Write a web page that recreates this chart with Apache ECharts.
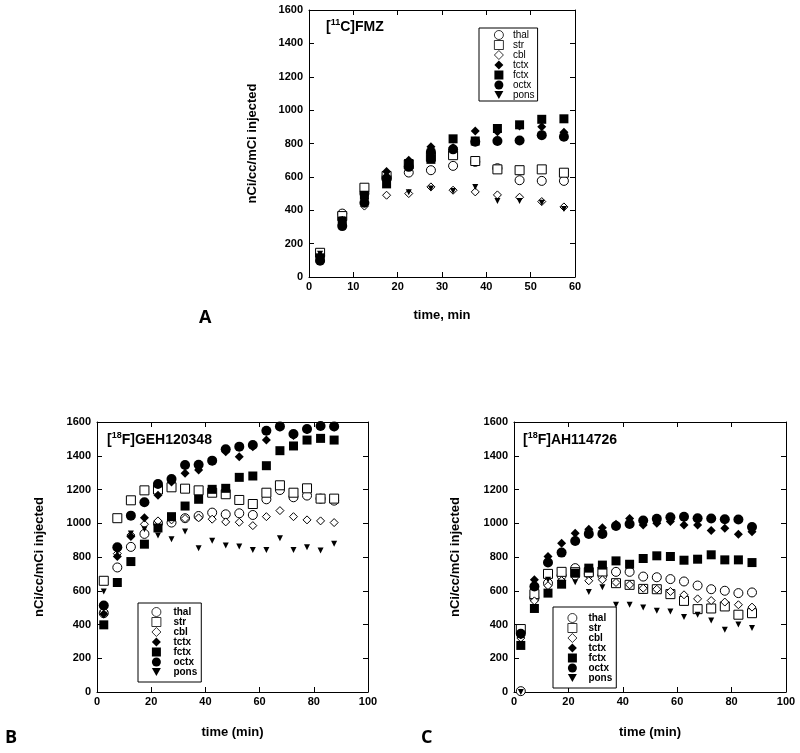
<!DOCTYPE html>
<html><head><meta charset="utf-8">
<script src="https://cdn.jsdelivr.net/npm/echarts@6/dist/echarts.min.js"></script>
<style>html,body{margin:0;padding:0;background:#fff}#c{width:800px;height:753px}</style>
</head><body><div id="c"></div>
<script>
// ---------- data ----------
const regions = ['thal', 'str', 'cbl', 'tctx', 'fctx', 'octx', 'pons'];

const timeA = [2.5, 7.5, 12.5, 17.5, 22.5, 27.5, 32.5, 37.5, 42.5, 47.5, 52.5, 57.5];
const thalA = [130, 380, 500, 600, 626, 640, 666, 690, 652, 580, 576, 576];
const strA  = [145, 365, 535, 605, 675, 720, 730, 695, 645, 640, 645, 625];
const cblA  = [125, 340, 425, 490, 500, 540, 520, 510, 492, 478, 452, 420];
const tctxA = [125, 330, 470, 632, 700, 780, 775, 875, 870, 905, 900, 868];
const fctxA = [115, 335, 490, 558, 680, 705, 828, 815, 890, 912, 945, 948];
const octxA = [98, 305, 445, 590, 660, 750, 765, 810, 815, 818, 850, 840];
const ponsA = [140, 345, 480, 560, 508, 530, 515, 540, 455, 455, 445, 408];

const timeBC = [2.5, 7.5, 12.5, 17.5, 22.5, 27.5, 32.5, 37.5, 42.5, 47.5, 52.5, 57.5, 62.5, 67.5, 72.5, 77.5, 82.5, 87.5];
const thalB = [467, 738, 860, 937, 1000, 1004, 1030, 1043, 1063, 1053, 1059, 1049, 1142, 1197, 1154, 1164, 1146, 1134];
const strB  = [659, 1030, 1136, 1195, 1200, 1213, 1205, 1195, 1181, 1172, 1138, 1114, 1181, 1225, 1181, 1207, 1146, 1146];
const cblB  = [480, 820, 930, 994, 1014, 1020, 1028, 1032, 1024, 1008, 1006, 986, 1039, 1075, 1039, 1020, 1014, 1004];
const tctxB = [462, 803, 921, 1032, 1166, 1245, 1296, 1316, 1369, 1424, 1394, 1454, 1493, 1570, 1520, 1555, 1575, 1570];
const fctxB = [398, 649, 773, 876, 972, 1039, 1102, 1142, 1201, 1207, 1272, 1280, 1341, 1430, 1458, 1493, 1503, 1493];
const octxB = [513, 858, 1045, 1124, 1233, 1262, 1345, 1347, 1371, 1438, 1454, 1464, 1548, 1574, 1529, 1558, 1576, 1574];
const ponsB = [596, 830, 940, 964, 927, 905, 951, 852, 897, 868, 862, 842, 842, 911, 842, 858, 838, 878];

const thalC = [5, 556, 645, 690, 734, 700, 690, 712, 712, 684, 680, 669, 655, 631, 609, 600, 586, 590];
const strC  = [373, 580, 700, 712, 710, 710, 714, 645, 635, 611, 609, 580, 540, 491, 495, 507, 458, 467];
const cblC  = [320, 540, 630, 660, 680, 659, 665, 649, 635, 615, 609, 596, 576, 552, 542, 533, 517, 503];
const tctxC = [340, 665, 803, 882, 941, 965, 974, 994, 1028, 990, 1000, 1010, 990, 990, 957, 970, 935, 949];
const fctxC = [276, 495, 586, 639, 704, 734, 752, 777, 757, 791, 807, 803, 781, 787, 813, 783, 783, 767];
const octxC = [345, 625, 767, 826, 895, 937, 937, 984, 996, 1016, 1026, 1036, 1039, 1030, 1028, 1024, 1022, 978];
const ponsC = [0, 620, 665, 640, 651, 592, 621, 517, 517, 501, 481, 477, 444, 458, 424, 369, 400, 379];

const yTicks = [0, 200, 400, 600, 800, 1000, 1200, 1400, 1600];
const xTicksA = [0, 10, 20, 30, 40, 50, 60];
const xTicksBC = [0, 20, 40, 60, 80, 100];

// ---------- styles ----------
const FONT = '"Liberation Sans", Arial, Helvetica, sans-serif';
const symbols = { thal: 'circle', str: 'rect', cbl: 'diamond', tctx: 'diamond', fctx: 'rect', octx: 'circle', pons: 'path://M0,0L10,0L5,9Z' };
const sizes = { thal: 9, str: 9, cbl: 8, tctx: 9, fctx: 9, octx: 10, pons: 6 };
const isOpen = { thal: true, str: true, cbl: true };

const panels = [
  { grid: { left: 309, top: 10, width: 266, height: 267 }, time: timeA, xt: xTicksA, xName: 'time, min', yGap: 50, xGap: 32,
    vals: { thal: thalA, str: strA, cbl: cblA, tctx: tctxA, fctx: fctxA, octx: octxA, pons: ponsA },
    legend: { left: 479, top: 28, padding: [2, 3, 1, 15], bold: false, tp: 4.5 } },
  { grid: { left: 97, top: 422, width: 271, height: 270 }, time: timeBC, xt: xTicksBC, xName: 'time (min)', yGap: 51, xGap: 34,
    vals: { thal: thalB, str: strB, cbl: cblB, tctx: tctxB, fctx: fctxB, octx: octxB, pons: ponsB },
    legend: { left: 138, top: 603, padding: [4, 4, 5, 13.5], bold: true, tp: 7.5 } },
  { grid: { left: 514, top: 422, width: 272, height: 270 }, time: timeBC, xt: xTicksBC, xName: 'time (min)', yGap: 52, xGap: 34,
    vals: { thal: thalC, str: strC, cbl: cblC, tctx: tctxC, fctx: fctxC, octx: octxC, pons: ponsC },
    legend: { left: 553, top: 607, padding: [6, 4, 5, 14.5], bold: true, tp: 6.5 } }
];

const lineSt = { color: '#000', width: 1 };
const plain = v => String(v);
const grids = [], xAxes = [], yAxes = [], series = [], legends = [];

panels.forEach((p, i) => {
  grids.push(Object.assign({ containLabel: false }, p.grid));
  const xmin = p.xt[0], xmax = p.xt[p.xt.length - 1], xint = p.xt[1] - p.xt[0];
  const ymin = yTicks[0], ymax = yTicks[yTicks.length - 1], yint = yTicks[1] - yTicks[0];
  const common = { gridIndex: i, type: 'value', splitLine: { show: false },
    axisLine: { show: true, onZero: false, lineStyle: lineSt },
    axisTick: { show: true, inside: true, length: 5, lineStyle: lineSt } };
  xAxes.push(Object.assign({}, common, { position: 'bottom', min: xmin, max: xmax, interval: xint,
    axisLabel: { color: '#000', fontSize: 11, fontWeight: 'bold', fontFamily: FONT, margin: 4, formatter: plain },
    name: p.xName, nameLocation: 'middle', nameGap: p.xGap,
    nameTextStyle: { color: '#000', fontSize: 13, fontWeight: 'bold', fontFamily: FONT } }));
  xAxes.push(Object.assign({}, common, { position: 'top', min: xmin, max: xmax, interval: xint, axisLabel: { show: false } }));
  yAxes.push(Object.assign({}, common, { position: 'left', min: ymin, max: ymax, interval: yint,
    axisLabel: { color: '#000', fontSize: 11, fontWeight: 'bold', fontFamily: FONT, margin: 6, formatter: plain },
    name: 'nCi/cc/mCi injected', nameLocation: 'middle', nameGap: p.yGap,
    nameTextStyle: { color: '#000', fontSize: 13, fontWeight: 'bold', fontFamily: FONT } }));
  yAxes.push(Object.assign({}, common, { position: 'right', min: ymin, max: ymax, interval: yint, axisLabel: { show: false } }));

  regions.forEach((r, k) => {
    const v = p.vals[r];
    series.push({
      type: 'scatter', name: r, xAxisIndex: 2 * i, yAxisIndex: 2 * i,
      data: p.time.map((t, j) => [t, v[j]]),
      symbol: symbols[r], symbolSize: sizes[r], z: 2 + k,
      itemStyle: isOpen[r] ? { color: '#fff', borderColor: '#000', borderWidth: 1, opacity: 1 } : { color: '#000', opacity: 1 },
      emphasis: { disabled: true }, clip: false
    });
  });

  legends.push({
    orient: 'vertical', left: p.legend.left, top: p.legend.top, data: regions, selectedMode: false,
    itemWidth: 9, itemHeight: 9, itemGap: 0, padding: p.legend.padding,
    itemStyle: { borderWidth: 0.8 },
    borderColor: '#000', borderWidth: 1, borderRadius: 0, backgroundColor: '#fff',
    textStyle: { fontSize: 10, fontFamily: FONT, color: '#000', fontWeight: p.legend.bold ? 'bold' : 'normal',
      lineHeight: 9.3, padding: [0, 0, 0, p.legend.tp] }
  });
});

const titleStyle = { fontSize: 14, fontWeight: 'bold', fontFamily: FONT, color: '#000',
  rich: { sup: { fontSize: 9, fontWeight: 'bold', fontFamily: FONT, color: '#000', lineHeight: 9, verticalAlign: 'top' },
          m: { fontSize: 14, fontWeight: 'bold', fontFamily: FONT, color: '#000', lineHeight: 18, verticalAlign: 'middle' } } };
const letterStyle = { fontSize: 18, fontWeight: 'bold', fontFamily: '"Open Sans", "Liberation Sans", sans-serif', color: '#000' };

const titles = [
  { text: '{m|[}{sup|11}{m|C]FMZ}', left: 326, top: 18, textStyle: titleStyle, padding: 0 },
  { text: '{m|[}{sup|18}{m|F]GEH120348}', left: 107, top: 431, textStyle: titleStyle, padding: 0 },
  { text: '{m|[}{sup|18}{m|F]AH114726}', left: 523, top: 431, textStyle: titleStyle, padding: 0 },
  { text: 'A', left: 199, top: 309, textStyle: letterStyle, padding: 0 },
  { text: 'B', left: 5, top: 729, textStyle: letterStyle, padding: 0 },
  { text: 'C', left: 421, top: 729, textStyle: letterStyle, padding: 0 }
];

const chart = echarts.init(document.getElementById('c'), null, { renderer: 'canvas' });
chart.setOption({
  animation: false,
  backgroundColor: '#fff',
  title: titles,
  legend: legends,
  grid: grids,
  xAxis: xAxes,
  yAxis: yAxes,
  series: series
});
</script></body></html>
